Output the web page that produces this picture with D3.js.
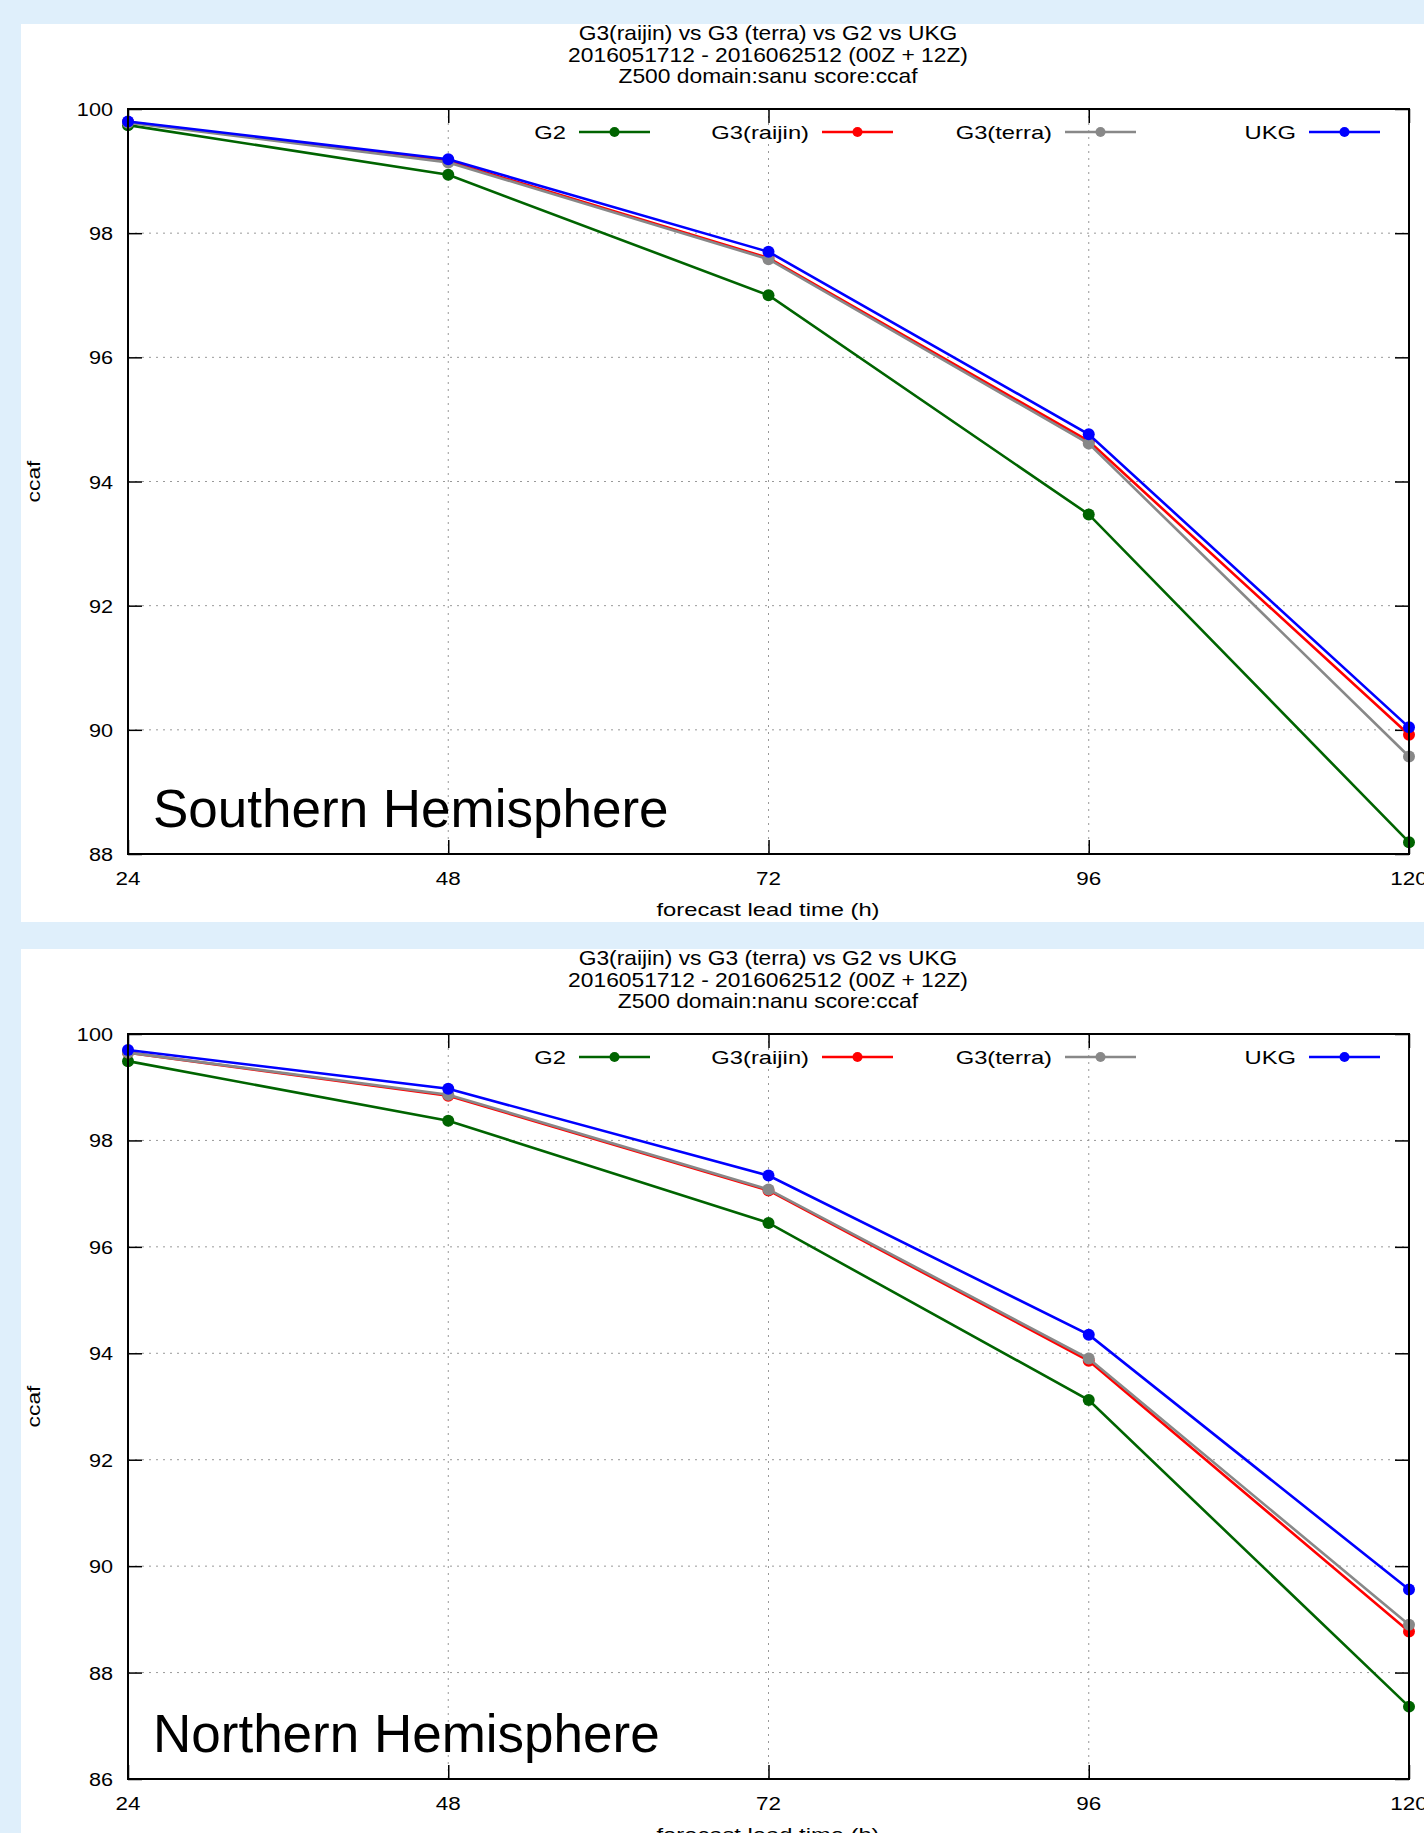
<!DOCTYPE html>
<html>
<head>
<meta charset="utf-8">
<script src="https://cdn.jsdelivr.net/npm/d3@7"></script>
<style>
  body { margin: 0; background: #dfeffb; }
  svg { display: block; font-family: "Liberation Sans", Arial, sans-serif; }
</style>
</head>
<body>
<svg id="chart" width="1424" height="1833"></svg>
<script>
// lead times (h)
var leadTimes = [24, 48, 72, 96, 120];
var seriesNames = ["G2", "G3(raijin)", "G3(terra)", "UKG"];

// Southern Hemisphere (domain sanu)
var sh_G2     = [99.74, 98.94, 97.00, 93.47, 88.19];
var sh_raijin = [99.79, 99.16, 97.60, 94.65, 89.92];
var sh_terra  = [99.78, 99.14, 97.58, 94.61, 89.57];
var sh_UKG    = [99.80, 99.19, 97.70, 94.76, 90.04];

// Northern Hemisphere (domain nanu)
var nh_G2     = [99.49, 98.37, 96.45, 93.12, 87.36];
var nh_raijin = [99.65, 98.84, 97.06, 93.86, 88.77];
var nh_terra  = [99.65, 98.86, 97.08, 93.90, 88.90];
var nh_UKG    = [99.70, 98.97, 97.34, 94.35, 89.56];

var shTicks = [88, 90, 92, 94, 96, 98, 100];
var nhTicks = [86, 88, 90, 92, 94, 96, 98, 100];

var colors = { "G2": "#006400", "G3(raijin)": "#ff0000", "G3(terra)": "#888888", "UKG": "#0000ff" };

var svg = d3.select("#chart");

// the plot fonts are a bit wider than Arial, stretch text horizontally
function addText(parent, x, y, str, size, anchor, sx) {
    return parent.append("text")
        .attr("transform", "translate(" + x + "," + y + ") scale(" + sx + ",1)")
        .attr("text-anchor", anchor)
        .attr("font-size", size)
        .text(str);
}

function drawPanel(top, domainName, label, yTicks, values) {
    var panel = svg.append("g").attr("transform", "translate(0," + top + ")");

    panel.append("rect")
        .attr("x", 21).attr("y", 0)
        .attr("width", 1424 - 21).attr("height", 898)
        .attr("fill", "#fff");

    var margin = {left: 128, right: 1409, top: 85, bottom: 830};

    var x = d3.scaleLinear().domain([24, 120]).range([margin.left, margin.right]);
    var y = d3.scaleLinear().domain([d3.min(yTicks), 100]).range([margin.bottom, margin.top]);

    // title
    var titles = ["G3(raijin) vs G3 (terra) vs G2 vs UKG",
                  "2016051712 - 2016062512 (00Z + 12Z)",
                  "Z500 domain:" + domainName + " score:ccaf"];
    titles.forEach(function(t, i) {
        addText(panel, 768, 16 + i * 21.5, t, 20, "middle", 1.14);
    });

    // grid
    var grid = panel.append("g").attr("stroke", "#999").attr("stroke-width", 1).attr("stroke-dasharray", "2,5");
    grid.selectAll("line.gy").data(yTicks.filter(function(t) { return t > d3.min(yTicks) && t < 100; }))
        .enter().append("line")
        .attr("x1", margin.left).attr("x2", margin.right)
        .attr("y1", function(d) { return y(d); }).attr("y2", function(d) { return y(d); });
    grid.selectAll("line.gx").data(leadTimes.slice(1, -1))
        .enter().append("line")
        .attr("y1", margin.top).attr("y2", margin.bottom)
        .attr("x1", function(d) { return x(d); }).attr("x2", function(d) { return x(d); });

    // axes with inward ticks
    var tl = 14;
    panel.append("g").attr("transform", "translate(" + margin.left + ",0)")
        .call(d3.axisRight(y).tickValues(yTicks).tickSize(tl).tickFormat(""))
        .call(function(g) { g.select(".domain").remove(); });
    panel.append("g").attr("transform", "translate(" + margin.right + ",0)")
        .call(d3.axisLeft(y).tickValues(yTicks).tickSize(tl).tickFormat(""))
        .call(function(g) { g.select(".domain").remove(); });
    panel.append("g").attr("transform", "translate(0," + margin.bottom + ")")
        .call(d3.axisTop(x).tickValues(leadTimes).tickSize(tl).tickFormat(""))
        .call(function(g) { g.select(".domain").remove(); });
    panel.append("g").attr("transform", "translate(0," + margin.top + ")")
        .call(d3.axisBottom(x).tickValues(leadTimes).tickSize(tl).tickFormat(""))
        .call(function(g) { g.select(".domain").remove(); });
    panel.selectAll(".tick line").attr("stroke", "#000").attr("stroke-width", 1.5);

    // tick labels
    yTicks.forEach(function(t) {
        addText(panel, margin.left - 15, y(t) + 7, t, 19, "end", 1.14);
    });
    leadTimes.forEach(function(t) {
        addText(panel, x(t), margin.bottom + 31, t, 19, "middle", 1.18);
    });

    // axis titles
    addText(panel, 768, margin.bottom + 62, "forecast lead time (h)", 19, "middle", 1.25);
    panel.append("text")
        .attr("transform", "translate(40," + ((margin.top + margin.bottom) / 2) + ") rotate(-90) scale(1.2,1)")
        .attr("text-anchor", "middle").attr("font-size", 19)
        .text("ccaf");

    // series
    var line = d3.line()
        .x(function(d, i) { return x(leadTimes[i]); })
        .y(function(d) { return y(d); });

    seriesNames.forEach(function(name, k) {
        var vals = values[k];
        panel.append("path")
            .attr("d", line(vals))
            .attr("fill", "none")
            .attr("stroke", colors[name])
            .attr("stroke-width", 2.6);
        panel.selectAll("circle.s" + k).data(vals).enter().append("circle")
            .attr("cx", function(d, i) { return x(leadTimes[i]); })
            .attr("cy", function(d) { return y(d); })
            .attr("r", 6)
            .attr("fill", colors[name]);
    });

    // frame
    panel.append("rect")
        .attr("x", margin.left).attr("y", margin.top)
        .attr("width", margin.right - margin.left).attr("height", margin.bottom - margin.top)
        .attr("fill", "none").attr("stroke", "#000").attr("stroke-width", 2);

    // legend
    var legendX = [579, 822, 1065, 1309];
    seriesNames.forEach(function(name, i) {
        var lg = panel.append("g")
            .attr("transform", "translate(" + legendX[i] + "," + (margin.top + 23) + ")");
        addText(lg, -13, 7, name, 19, "end", 1.25);
        lg.append("line")
            .attr("x1", 0).attr("x2", 71)
            .attr("stroke", colors[name])
            .attr("stroke-width", 2.6);
        lg.append("circle")
            .attr("cx", 35.5).attr("r", 5)
            .attr("fill", colors[name]);
    });

    // hemisphere label
    panel.append("text")
        .attr("x", 153).attr("y", margin.bottom - 27)
        .attr("font-size", 53)
        .text(label);
}

drawPanel(24, "sanu", "Southern Hemisphere", shTicks, [sh_G2, sh_raijin, sh_terra, sh_UKG]);
drawPanel(949, "nanu", "Northern Hemisphere", nhTicks, [nh_G2, nh_raijin, nh_terra, nh_UKG]);
</script>
</body>
</html>
